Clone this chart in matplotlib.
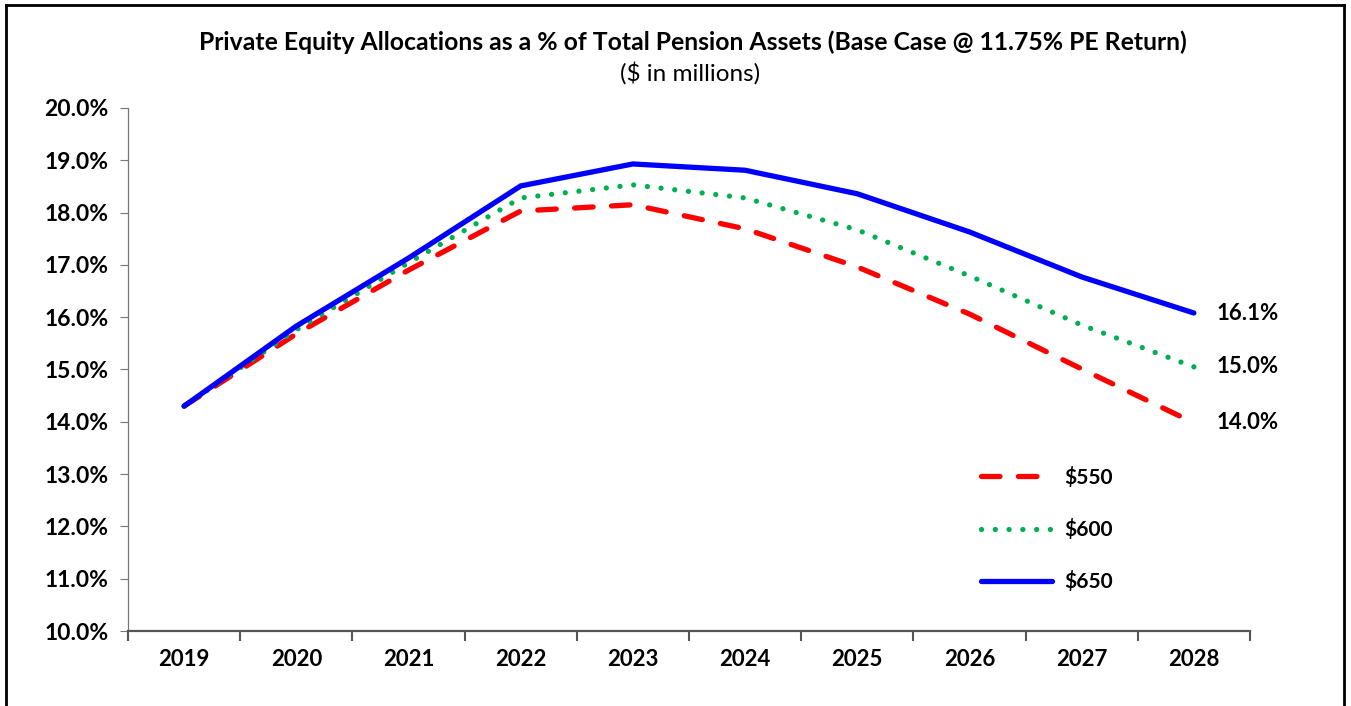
import matplotlib
matplotlib.use("Agg")
import matplotlib.pyplot as plt
from matplotlib.lines import Line2D

plt.rcParams['font.family'] = ['Lato', 'DejaVu Sans']

years = ["2019", "2020", "2021", "2022", "2023", "2024", "2025", "2026", "2027", "2028"]
s550 = [14.3, 15.68, 16.90, 18.03, 18.15, 17.69, 16.96, 16.06, 15.01, 13.98]
s600 = [14.3, 15.76, 17.04, 18.28, 18.53, 18.28, 17.67, 16.79, 15.85, 15.05]
s650 = [14.3, 15.83, 17.13, 18.51, 18.93, 18.81, 18.36, 17.63, 16.77, 16.08]
end_labels = ["14.0%", "15.0%", "16.1%"]
series_names = ["$550", "$600", "$650"]
yticks = [10, 11, 12, 13, 14, 15, 16, 17, 18, 19, 20]

fig = plt.figure(figsize=(13.51, 7.06), dpi=100)
W, H = 1351, 706
ax = fig.add_axes([128 / W, 1 - 631 / H, (1250 - 128) / W, (631 - 108) / H])

x = list(range(len(years)))
l1, = ax.plot(x, s550, color='#ff0000', lw=3.8, linestyle=(0, (3.5, 3.5)), dash_capstyle='round', solid_capstyle='round')
l2, = ax.plot(x, s600, color='#00b050', lw=3.8, linestyle=(0, (0.01, 2.6)), dash_capstyle='round')
l3, = ax.plot(x, s650, color='#0000ff', lw=3.8, solid_capstyle='round', solid_joinstyle='miter')

for vals, lab in zip([s550, s600, s650], end_labels):
    ax.annotate(lab, (x[-1], vals[-1]), xytext=(16, 0), textcoords='offset points',
                ha='left', va='center', fontsize=16, fontweight='bold')

ax.set_xlim(-0.5, len(years) - 0.5)
ax.set_ylim(10, 20)
ax.set_yticks(yticks)
ax.set_yticklabels([f"{v:.1f}%" for v in yticks], fontsize=16.5, fontweight='bold')
ax.set_xticks(x)
ax.set_xticklabels(years, fontsize=16, fontweight='bold')
ax.tick_params(axis='x', length=0, pad=13)
ax.set_xticks([i - 0.5 for i in range(len(years) + 1)], minor=True)
ax.tick_params(axis='x', which='minor', length=7, width=1.5, color='#555555', direction='out')
ax.tick_params(axis='y', length=6, width=0.8, color='#777777', pad=8, direction='out')
for t in ax.yaxis.get_ticklines():
    t.set_linestyle(':')

for s in ['top', 'right']:
    ax.spines[s].set_visible(False)
ax.spines['left'].set_linestyle((0, (1, 1)))
ax.spines['left'].set_color('#777777')
ax.spines['left'].set_linewidth(0.9)
ax.spines['bottom'].set_color('#555555')
ax.spines['bottom'].set_linewidth(1.6)

leg = ax.legend([l1, l2, l3], series_names, loc='upper left',
                bbox_to_anchor=((962 - 128) / (1250 - 128), (631 - 448) / (631 - 108)),
                frameon=False, handlelength=3.4, labelspacing=1.5, handletextpad=0.6,
                prop={'size': 15, 'weight': 'bold'})

fig.text(693 / W, 1 - 42 / H, "Private Equity Allocations as a % of Total Pension Assets (Base Case @ 11.75% PE Return)",
         ha='center', va='center', fontsize=17.8, fontweight='bold')
fig.text(690 / W, 1 - 73 / H, "($ in millions)", ha='center', va='center', fontsize=17.5)

# outer frame
fig.add_artist(Line2D([6 / W, 6 / W], [0, 1 - 5 / H], transform=fig.transFigure, color='black', lw=2))
fig.add_artist(Line2D([6 / W, 1344 / W], [1 - 5 / H, 1 - 5 / H], transform=fig.transFigure, color='black', lw=2))
fig.add_artist(Line2D([1344 / W, 1344 / W], [0, 1 - 5 / H], transform=fig.transFigure, color='black', lw=2))

fig.savefig("out.png", dpi=100)
